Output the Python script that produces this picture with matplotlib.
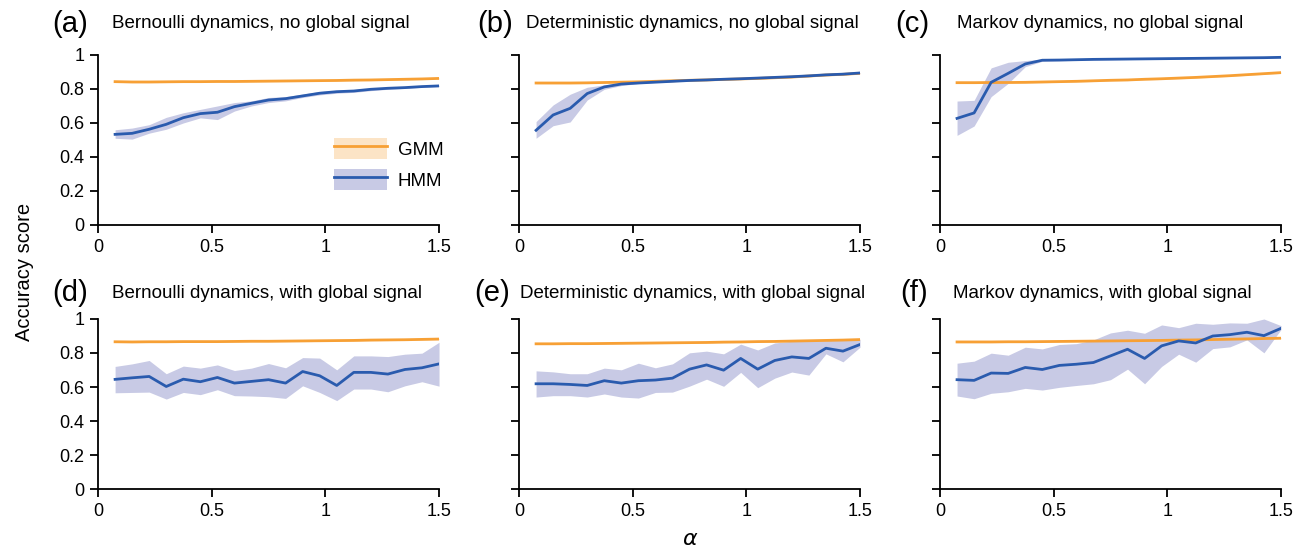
import matplotlib
matplotlib.use("Agg")
import matplotlib.pyplot as plt
import numpy as np
from matplotlib.lines import Line2D
from matplotlib.patches import Patch

plt.rcParams["font.family"] = ["Liberation Sans", "DejaVu Sans"]

alpha = np.round(np.arange(1, 21) * 0.075, 3)

# (a) Bernoulli, no global signal
gmm_a = [0.843, 0.841, 0.841, 0.842, 0.843, 0.843, 0.844, 0.844, 0.845, 0.846,
         0.847, 0.848, 0.849, 0.850, 0.852, 0.853, 0.855, 0.857, 0.859, 0.862]
hmm_a = [0.533, 0.539, 0.563, 0.592, 0.631, 0.655, 0.663, 0.696, 0.716, 0.735,
         0.743, 0.759, 0.775, 0.784, 0.788, 0.798, 0.804, 0.808, 0.814, 0.818]
hmm_a_hi = [0.560, 0.570, 0.590, 0.633, 0.660, 0.680, 0.700, 0.720, 0.730, 0.750,
            0.755, 0.770, 0.785, 0.792, 0.796, 0.805, 0.810, 0.813, 0.818, 0.822]
hmm_a_lo = [0.510, 0.505, 0.540, 0.563, 0.600, 0.630, 0.620, 0.670, 0.700, 0.720,
            0.730, 0.750, 0.765, 0.775, 0.780, 0.790, 0.798, 0.803, 0.810, 0.814]

# (b) Deterministic, no global signal
gmm_b = [0.835, 0.835, 0.835, 0.836, 0.838, 0.840, 0.842, 0.845, 0.848, 0.851,
         0.853, 0.856, 0.859, 0.862, 0.866, 0.870, 0.876, 0.882, 0.886, 0.892]
hmm_b = [0.557, 0.647, 0.686, 0.773, 0.812, 0.829, 0.835, 0.840, 0.845, 0.850,
         0.853, 0.857, 0.860, 0.864, 0.868, 0.872, 0.877, 0.883, 0.887, 0.894]
hmm_b_hi = [0.608, 0.706, 0.769, 0.810, 0.824, 0.833, 0.838, 0.842, 0.847, 0.852,
            0.855, 0.859, 0.862, 0.866, 0.870, 0.874, 0.879, 0.885, 0.889, 0.896]
hmm_b_lo = [0.510, 0.584, 0.606, 0.735, 0.798, 0.820, 0.832, 0.838, 0.843, 0.848,
            0.851, 0.855, 0.858, 0.862, 0.866, 0.870, 0.875, 0.881, 0.885, 0.892]

# (c) Markov, no global signal
gmm_c = [0.837, 0.837, 0.838, 0.838, 0.839, 0.841, 0.843, 0.845, 0.848, 0.851,
         0.853, 0.857, 0.860, 0.864, 0.868, 0.873, 0.878, 0.884, 0.890, 0.896]
hmm_c = [0.627, 0.659, 0.839, 0.892, 0.947, 0.969, 0.970, 0.972, 0.974, 0.975,
         0.976, 0.977, 0.978, 0.979, 0.980, 0.981, 0.982, 0.983, 0.984, 0.986]
hmm_c_hi = [0.729, 0.733, 0.924, 0.957, 0.967, 0.975, 0.975, 0.976, 0.977, 0.978,
            0.979, 0.980, 0.981, 0.982, 0.983, 0.984, 0.985, 0.986, 0.987, 0.988]
hmm_c_lo = [0.527, 0.582, 0.755, 0.833, 0.931, 0.963, 0.966, 0.968, 0.971, 0.972,
            0.973, 0.974, 0.975, 0.976, 0.977, 0.978, 0.979, 0.980, 0.981, 0.984]

# (d) Bernoulli, with global signal
gmm_d = [0.866, 0.865, 0.866, 0.866, 0.867, 0.867, 0.867, 0.868, 0.869, 0.869,
         0.870, 0.871, 0.872, 0.873, 0.874, 0.876, 0.877, 0.878, 0.880, 0.882]
hmm_d = [0.645, 0.654, 0.662, 0.603, 0.646, 0.631, 0.656, 0.623, 0.633, 0.643,
         0.623, 0.691, 0.666, 0.609, 0.686, 0.686, 0.676, 0.703, 0.713, 0.736]
hmm_d_hi = [0.721, 0.736, 0.756, 0.678, 0.723, 0.711, 0.730, 0.697, 0.711, 0.738,
            0.713, 0.773, 0.770, 0.701, 0.783, 0.783, 0.779, 0.793, 0.799, 0.863]
hmm_d_lo = [0.566, 0.568, 0.570, 0.529, 0.568, 0.555, 0.584, 0.549, 0.547, 0.543,
            0.533, 0.607, 0.568, 0.520, 0.588, 0.588, 0.572, 0.607, 0.631, 0.605]

# (e) Deterministic, with global signal
gmm_e = [0.854, 0.854, 0.855, 0.855, 0.856, 0.857, 0.858, 0.859, 0.860, 0.861,
         0.862, 0.864, 0.865, 0.867, 0.868, 0.870, 0.872, 0.874, 0.876, 0.879]
hmm_e = [0.619, 0.619, 0.615, 0.609, 0.637, 0.623, 0.637, 0.641, 0.652, 0.705,
         0.730, 0.699, 0.768, 0.705, 0.756, 0.777, 0.768, 0.828, 0.811, 0.850]
hmm_e_hi = [0.695, 0.689, 0.678, 0.678, 0.711, 0.701, 0.740, 0.713, 0.736, 0.801,
            0.811, 0.795, 0.852, 0.818, 0.859, 0.869, 0.869, 0.873, 0.877, 0.879]
hmm_e_lo = [0.541, 0.549, 0.549, 0.541, 0.559, 0.541, 0.535, 0.568, 0.570, 0.605,
            0.646, 0.604, 0.686, 0.596, 0.652, 0.688, 0.670, 0.795, 0.748, 0.834]

# (f) Markov, with global signal
gmm_f = [0.865, 0.865, 0.865, 0.866, 0.866, 0.867, 0.868, 0.869, 0.870, 0.871,
         0.872, 0.873, 0.874, 0.876, 0.877, 0.879, 0.881, 0.883, 0.885, 0.887]
hmm_f = [0.643, 0.639, 0.682, 0.680, 0.715, 0.703, 0.727, 0.734, 0.744, 0.783,
         0.822, 0.768, 0.842, 0.871, 0.859, 0.900, 0.908, 0.922, 0.902, 0.945]
hmm_f_hi = [0.740, 0.752, 0.799, 0.787, 0.834, 0.824, 0.850, 0.855, 0.877, 0.918,
            0.934, 0.916, 0.965, 0.949, 0.975, 0.969, 0.977, 0.975, 1.000, 0.961]
hmm_f_lo = [0.547, 0.531, 0.563, 0.572, 0.592, 0.582, 0.598, 0.609, 0.619, 0.643,
            0.705, 0.619, 0.721, 0.793, 0.746, 0.826, 0.836, 0.877, 0.801, 0.938]

panel_labels = ["(a)", "(b)", "(c)", "(d)", "(e)", "(f)"]
panel_titles = [
    "Bernoulli dynamics, no global signal",
    "Deterministic dynamics, no global signal",
    "Markov dynamics, no global signal",
    "Bernoulli dynamics, with global signal",
    "Deterministic dynamics, with global signal",
    "Markov dynamics, with global signal",
]
gmm_all = [gmm_a, gmm_b, gmm_c, gmm_d, gmm_e, gmm_f]
hmm_all = [hmm_a, hmm_b, hmm_c, hmm_d, hmm_e, hmm_f]
hmm_hi_all = [hmm_a_hi, hmm_b_hi, hmm_c_hi, hmm_d_hi, hmm_e_hi, hmm_f_hi]
hmm_lo_all = [hmm_a_lo, hmm_b_lo, hmm_c_lo, hmm_d_lo, hmm_e_lo, hmm_f_lo]

orange = "#F7A035"
orange_band = "#FCE4C6"
blue = "#2A5BAE"
blue_band = "#C8CAE5"

fig = plt.figure(figsize=(13.09, 5.54), dpi=100)
lefts = [0.0749, 0.3965, 0.7181]
bottoms = [0.5939, 0.1173]
title_y = [1.185, 1.15]
label_x = [-0.135, -0.123, -0.132, -0.135, -0.132, -0.117]
title_x = [0.041, 0.02, 0.05, 0.041, 0.003, 0.038]
width, height = 0.2605, 0.3069

axes = []
for i in range(6):
    row, col = divmod(i, 3)
    ax = fig.add_axes([lefts[col], bottoms[row], width, height])
    axes.append(ax)

    gmm = np.array(gmm_all[i])
    ax.fill_between(alpha, gmm - 0.004, gmm + 0.004, color=orange_band, lw=0)
    ax.plot(alpha, gmm, color=orange, lw=2)
    ax.fill_between(alpha, hmm_lo_all[i], hmm_hi_all[i], color=blue_band, lw=0)
    ax.plot(alpha, hmm_all[i], color=blue, lw=2)

    ax.set_xlim(0, 1.5)
    ax.set_ylim(0, 1)
    ax.set_xticks([0, 0.5, 1, 1.5])
    ax.set_xticklabels(["0", "0.5", "1", "1.5"])
    ax.set_yticks([0, 0.2, 0.4, 0.6, 0.8, 1])
    if col == 0:
        ax.set_yticklabels(["0", "0.2", "0.4", "0.6", "0.8", "1"])
    else:
        ax.set_yticklabels([])
    ax.spines["top"].set_visible(False)
    ax.spines["right"].set_visible(False)
    ax.spines["left"].set_linewidth(1.3)
    ax.spines["bottom"].set_linewidth(1.3)
    ax.tick_params(direction="out", length=6, width=1.3, labelsize=13, pad=4)

    ax.text(label_x[i], title_y[row], panel_labels[i], transform=ax.transAxes,
            fontsize=21, ha="left", va="center")
    ax.text(title_x[i], title_y[row], panel_titles[i], transform=ax.transAxes,
            fontsize=13.5, ha="left", va="center")

legend_handles = [
    (Patch(facecolor=orange_band, edgecolor="none"), Line2D([], [], color=orange, lw=2)),
    (Patch(facecolor=blue_band, edgecolor="none"), Line2D([], [], color=blue, lw=2)),
]
axes[0].legend(legend_handles, ["GMM", "HMM"], loc="lower left",
               bbox_to_anchor=(0.67, 0.16), frameon=False, fontsize=13.5,
               handlelength=2.8, handleheight=1.4, labelspacing=0.5,
               handletextpad=0.6, borderaxespad=0)

fig.text(0.019, 0.51, "Accuracy score", rotation=90, fontsize=14.5,
         ha="center", va="center")
fig.text(0.527, 0.027, r"$\alpha$", fontsize=16, ha="center", va="center")

fig.savefig("out.png", dpi=100)
